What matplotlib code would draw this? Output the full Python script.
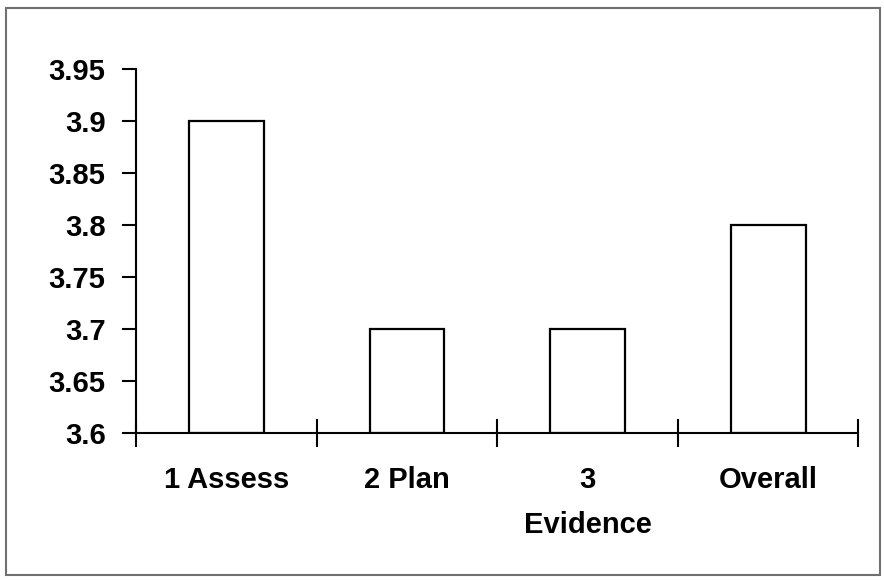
import matplotlib.pyplot as plt
from matplotlib.patches import Rectangle

categories = ['1 Assess', '2 Plan', '3\nEvidence', 'Overall']
scores = [3.9, 3.7, 3.7, 3.8]
y_ticks = [3.6, 3.65, 3.7, 3.75, 3.8, 3.85, 3.9, 3.95]
y_labels = ['3.6', '3.65', '3.7', '3.75', '3.8', '3.85', '3.9', '3.95']

plt.rcParams['font.family'] = ['Liberation Sans', 'DejaVu Sans']

fig = plt.figure(figsize=(8.84, 5.82), dpi=100)
ax = fig.add_axes([0.154, 0.256, 0.817, 0.625])

x = list(range(len(categories)))
ax.bar(x, [s - 3.6 for s in scores], bottom=3.6, width=0.415,
       color='white', edgecolor='black', linewidth=1.6)

ax.set_xlim(-0.5, len(categories) - 0.5)
ax.set_ylim(3.6, 3.95)

ax.set_yticks(y_ticks)
ax.set_yticklabels(y_labels, fontsize=21, fontweight='bold')
ax.tick_params(axis='y', direction='out', length=10, width=1.5, pad=12)

# ticks sit between categories, labels sit under the bar centres
ax.set_xticks([i - 0.5 for i in range(len(categories) + 1)])
ax.set_xticklabels([])
ax.tick_params(axis='x', which='major', direction='inout', length=20, width=1.5)
ax.set_xticks(x, minor=True)
ax.set_xticklabels(categories, minor=True, fontsize=21, fontweight='bold',
                   linespacing=1.75, va='top')
ax.tick_params(axis='x', which='minor', length=0, pad=24)

for side in ['top', 'right']:
    ax.spines[side].set_visible(False)
for side in ['left', 'bottom']:
    ax.spines[side].set_linewidth(1.5)

fig.patches.append(Rectangle((0.007, 0.012), 0.988, 0.974, transform=fig.transFigure,
                             fill=False, edgecolor='#707070', linewidth=1.5))

fig.savefig('out.png', dpi=100)
